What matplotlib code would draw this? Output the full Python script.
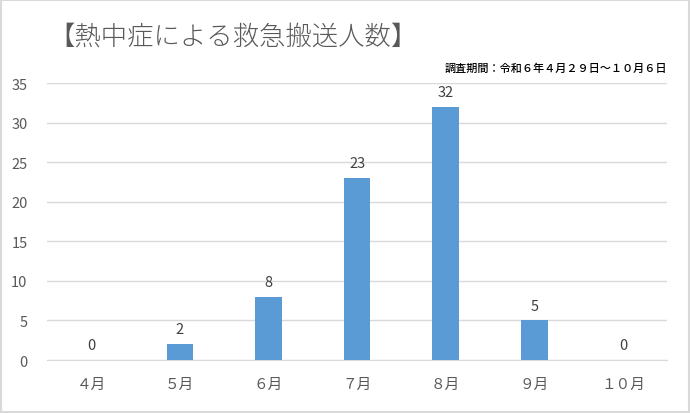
import matplotlib
matplotlib.use("Agg")
import matplotlib.pyplot as plt
from matplotlib.patches import Rectangle

plt.rcParams['font.family'] = ['Noto Sans CJK JP', 'DejaVu Sans']

months = ["４月", "５月", "６月", "７月", "８月", "９月", "１０月"]
counts = [0, 2, 8, 23, 32, 5, 0]
yticks = [0, 5, 10, 15, 20, 25, 30, 35]
title = "【熱中症による救急搬送人数】"
subtitle = "調査期間：令和６年４月２９日～１０月６日"

fig = plt.figure(figsize=(6.9, 4.14), dpi=100)
fig.patches.append(Rectangle((0.002, 0.003), 0.996, 0.994, transform=fig.transFigure,
                             fill=False, edgecolor='#D9D9D9', linewidth=1.5))
ax = fig.add_axes([0.068, 0.128, 0.899, 0.669])

x = range(len(months))
bars = ax.bar(x, counts, width=0.3, color='#5B9BD5', zorder=3)
for xi, v in zip(x, counts):
    ax.text(xi, v + 1.0, str(v), ha='center', va='bottom', fontsize=10.5, color='#404040')

ax.set_ylim(0, 35)
ax.set_xlim(-0.5, len(months) - 0.5)
ax.set_yticks(yticks)
ax.set_xticks(list(x))
ax.set_xticklabels(months)
ax.grid(axis='y', color='#D9D9D9', linewidth=1, zorder=0)
for s in ['top', 'right', 'left']:
    ax.spines[s].set_visible(False)
ax.spines['bottom'].set_color('#D9D9D9')
ax.tick_params(axis='both', length=0, colors='#595959', labelsize=10.5)
ax.tick_params(axis='y', pad=14)
ax.tick_params(axis='x', pad=12)

fig.text(0.070, 0.912, title, fontsize=19, color='#595959', ha='left', va='center', fontweight='light')
fig.text(0.967, 0.835, subtitle, fontsize=8, color='#000000', ha='right', va='center', fontweight='medium')

fig.savefig("out.png", dpi=100)
